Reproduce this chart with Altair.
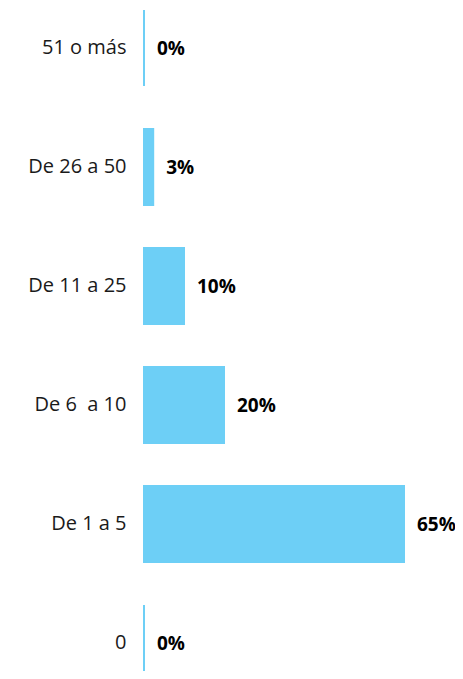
import altair as alt
import pandas as pd

categories = ["51 o más", "De 26 a 50", "De 11 a 25", "De 6\u00a0 a 10", "De 1 a 5", "0"]
values = [0, 2.3, 10, 20, 65, 0]
labels = ["0%", "3%", "10%", "20%", "65%", "0%"]

df = pd.DataFrame({"cat": categories, "val": values, "lab": labels})

y = alt.Y("cat:N", sort=categories, title=None,
          scale=alt.Scale(paddingInner=0.361, paddingOuter=0, range=[2, 673]),
          axis=alt.Axis(domain=False, ticks=False, grid=False, labelPadding=17,
                        labelFont="Open Sans", labelFontSize=20, labelColor="#1a1a1a",
                        labelLimit=200, minExtent=135, maxExtent=135))
x = alt.X("val:Q", title=None, axis=None, scale=alt.Scale(domain=[0, 78], nice=False))

bars = alt.Chart(df).mark_bar(color="#6dcff6", stroke="#6dcff6", strokeWidth=2, xOffset=1,
                              clip=True).encode(x=x, y=y)
text = alt.Chart(df).mark_text(align="left", baseline="middle", dx=14, dy=1, font="Open Sans",
                               fontSize=19, fontWeight="bold", color="#000000").encode(
    x=x, y=y, text="lab:N")

chart = (bars + text).properties(
    width=312, height=663,
    autosize=alt.AutoSizeParams(type="none"),
    padding={"left": 135, "top": 0, "right": 0, "bottom": 0},
).configure_view(stroke=None)

chart.save("out.html", embed_options={"renderer": "svg", "actions": False})
